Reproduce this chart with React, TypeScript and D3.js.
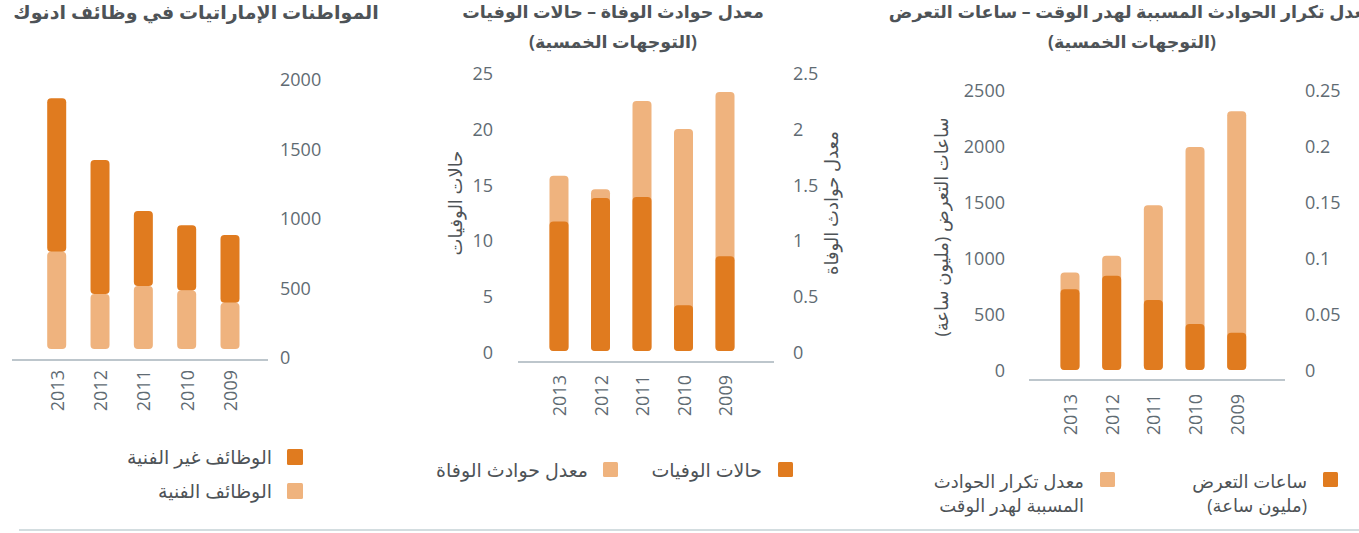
import React from "react";
import * as d3 from "d3";

// ---------- data ----------
const years = ["2013", "2012", "2011", "2010", "2009"];

// Panel 1: Emirati women in ADNOC jobs (stacked)
const technicalJobs = [700, 396, 453, 420, 333];
const nonTechnicalJobs = [1104, 964, 540, 470, 487];
const p1Ticks = [0, 500, 1000, 1500, 2000];

// Panel 2: fatalities (left) / fatal accident rate (right)
const fatalities = [11.6, 13.7, 13.8, 4.1, 8.5];
const fatalRate = [1.57, 1.45, 2.24, 1.99, 2.32];
const p2LeftTicks = [0, 5, 10, 15, 20, 25];
const p2RightTicks = [0, 0.5, 1, 1.5, 2, 2.5];

// Panel 3: exposure hours (left) / LTI frequency (right)
const exposureHours = [720, 842, 625, 411, 333];
const ltiRate = [0.087, 0.102, 0.147, 0.199, 0.231];
const p3LeftTicks = [0, 500, 1000, 1500, 2000, 2500];
const p3RightTicks = [0, 0.05, 0.1, 0.15, 0.2, 0.25];

// ---------- text ----------
const title1 = "المواطنات الإماراتيات في وظائف ادنوك";
const title2a = "معدل حوادث الوفاة – حالات الوفيات";
const title2b = "(التوجهات الخمسية)";
const title3a = "معدل تكرار الحوادث المسببة لهدر الوقت – ساعات التعرض";
const title3b = "(التوجهات الخمسية)";
const legend1 = ["الوظائف غير الفنية", "الوظائف الفنية"];
const legend2 = ["حالات الوفيات", "معدل حوادث الوفاة"];
const legend3a = ["ساعات التعرض", "(مليون ساعة)"];
const legend3b = ["معدل تكرار الحوادث", "المسببة لهدر الوقت"];
const axis2Left = "حالات الوفيات";
const axis2Right = "معدل حوادث الوفاة";
const axis3Left = "ساعات التعرض (مليون ساعة)";

const DARK = "#E07B1F";
const LIGHT = "#EFB37E";
const TICK = "#5F6B73";
const TEXT = "#4E5357";
const AXIS = "#A7B3BB";
const FONT = "'Open Sans', 'DejaVu Sans', sans-serif";
const BAR_W = 19;

function Bar({ x, y0, y1, fill }: { x: number; y0: number; y1: number; fill: string }) {
  return <rect x={x - BAR_W / 2} y={Math.min(y0, y1)} width={BAR_W} height={Math.abs(y0 - y1)} rx={4} fill={fill} />;
}

function YearLabels({ xs, y }: { xs: d3.ScalePoint<string>; y: number }) {
  return (
    <g>
      {years.map((yr) => (
        <text key={yr} transform={`translate(${xs(yr)},${y}) rotate(-90)`} textAnchor="end" dominantBaseline="central" fontSize={18} fill={TICK} fontFamily={FONT}>
          {yr}
        </text>
      ))}
    </g>
  );
}

// right-aligned Arabic label (rtl: "start" = right edge at x)
function RText({ x, y, children, size = 19 }: { x: number; y: number; children: React.ReactNode; size?: number }) {
  return (
    <text x={x} y={y} direction="rtl" textAnchor="start" dominantBaseline="central" fontSize={size} fill={TEXT}>
      {children}
    </text>
  );
}

function Title({ x, y, children, size = 17.5 }: { x: number; y: number; children: React.ReactNode; size?: number }) {
  return (
    <text x={x} y={y} direction="rtl" textAnchor="middle" dominantBaseline="central" fontSize={size} fontWeight="bold" fill={TEXT}>
      {children}
    </text>
  );
}

export default function App() {
  const x1 = d3.scalePoint<string>().domain(years).range([56.7, 230]);
  const y1 = d3.scaleLinear().domain([0, 2000]).range([349, 71]);
  const x2 = d3.scalePoint<string>().domain(years).range([559, 725]);
  const y2L = d3.scaleLinear().domain([0, 25]).range([351, 72]);
  const y2R = d3.scaleLinear().domain([0, 2.5]).range([351, 72]);
  const x3 = d3.scalePoint<string>().domain(years).range([1070, 1236.7]);
  const y3L = d3.scaleLinear().domain([0, 2500]).range([370, 90]);
  const y3R = d3.scaleLinear().domain([0, 0.25]).range([370, 90]);

  const fmt = (v: number) => String(v);

  return (
    <svg width={1359} height={533} style={{ position: "absolute", left: 0, top: 0, background: "#fff" }} fontFamily={FONT}>
      {/* ---------- Panel 1 ---------- */}
      <Title x={196} y={12} size={19}>{title1}</Title>
      {p1Ticks.map((t) => (
        <text key={t} x={280} y={y1(t) + 8} dominantBaseline="central" fontSize={18} fill={TICK}>{fmt(t)}</text>
      ))}
      {years.map((yr, i) => (
        <g key={yr}>
          <Bar x={x1(yr)!} y0={y1(0)} y1={y1(technicalJobs[i])} fill={LIGHT} />
          <Bar x={x1(yr)!} y0={y1(technicalJobs[i])} y1={y1(technicalJobs[i] + nonTechnicalJobs[i])} fill={DARK} />
        </g>
      ))}
      <line x1={12} x2={268} y1={y1(0) + 11} y2={y1(0) + 11} stroke={AXIS} strokeWidth={1.5} />
      <YearLabels xs={x1} y={y1(0) + 21} />
      <rect x={287} y={449} width={16} height={16} rx={1.5} fill={DARK} />
      <RText x={272} y={457}>{legend1[0]}</RText>
      <rect x={287} y={483} width={16} height={16} rx={1.5} fill={LIGHT} />
      <RText x={272} y={491}>{legend1[1]}</RText>

      {/* ---------- Panel 2 ---------- */}
      <Title x={613} y={11}>{title2a}</Title>
      <Title x={613} y={41}>{title2b}</Title>
      {p2LeftTicks.map((t) => (
        <text key={t} x={493} y={y2L(t) + 1} textAnchor="end" dominantBaseline="central" fontSize={18} fill={TICK}>{fmt(t)}</text>
      ))}
      {p2RightTicks.map((t) => (
        <text key={t} x={793} y={y2R(t) + 1} dominantBaseline="central" fontSize={18} fill={TICK}>{fmt(t)}</text>
      ))}
      <text transform={`translate(455,203) rotate(-90)`} direction="rtl" textAnchor="middle" dominantBaseline="central" fontSize={18} fill={TEXT}>{axis2Left}</text>
      <text transform={`translate(831,203) rotate(-90)`} direction="rtl" textAnchor="middle" dominantBaseline="central" fontSize={18} fill={TEXT}>{axis2Right}</text>
      {years.map((yr, i) => (
        <g key={yr}>
          <Bar x={x2(yr)!} y0={y2R(0)} y1={y2R(fatalRate[i])} fill={LIGHT} />
          <Bar x={x2(yr)!} y0={y2L(0)} y1={y2L(fatalities[i])} fill={DARK} />
        </g>
      ))}
      <line x1={518} x2={774} y1={y2L(0) + 11} y2={y2L(0) + 11} stroke={AXIS} strokeWidth={1.5} />
      <YearLabels xs={x2} y={y2L(0) + 24} />
      <rect x={778} y={462} width={15} height={15} rx={1.5} fill={DARK} />
      <RText x={762} y={470}>{legend2[0]}</RText>
      <rect x={603} y={462} width={15} height={15} rx={1.5} fill={LIGHT} />
      <RText x={588} y={470}>{legend2[1]}</RText>

      {/* ---------- Panel 3 ---------- */}
      <Title x={1132} y={11}>{title3a}</Title>
      <Title x={1132} y={41}>{title3b}</Title>
      {p3LeftTicks.map((t) => (
        <text key={t} x={1005} y={y3L(t)} textAnchor="end" dominantBaseline="central" fontSize={18} fill={TICK}>{fmt(t)}</text>
      ))}
      {p3RightTicks.map((t) => (
        <text key={t} x={1305} y={y3R(t)} dominantBaseline="central" fontSize={18} fill={TICK}>{fmt(t)}</text>
      ))}
      <text transform={`translate(941,227) rotate(-90)`} direction="rtl" textAnchor="middle" dominantBaseline="central" fontSize={18} fill={TEXT}>{axis3Left}</text>
      {years.map((yr, i) => (
        <g key={yr}>
          <Bar x={x3(yr)!} y0={y3R(0)} y1={y3R(ltiRate[i])} fill={LIGHT} />
          <Bar x={x3(yr)!} y0={y3L(0)} y1={y3L(exposureHours[i])} fill={DARK} />
        </g>
      ))}
      <line x1={1029} x2={1285} y1={y3L(0) + 10} y2={y3L(0) + 10} stroke={AXIS} strokeWidth={1.5} />
      <YearLabels xs={x3} y={y3L(0) + 24} />
      <rect x={1323} y={472} width={15} height={15} rx={1.5} fill={DARK} />
      <RText x={1307} y={481} size={18}>{legend3a[0]}</RText>
      <RText x={1307} y={505} size={18}>{legend3a[1]}</RText>
      <rect x={1100} y={472} width={15} height={15} rx={1.5} fill={LIGHT} />
      <RText x={1084} y={481} size={18}>{legend3b[0]}</RText>
      <RText x={1084} y={505} size={18}>{legend3b[1]}</RText>

      {/* bottom rule */}
      <line x1={19} x2={1359} y1={530} y2={530} stroke="#D3DDE0" strokeWidth={2} />
    </svg>
  );
}
